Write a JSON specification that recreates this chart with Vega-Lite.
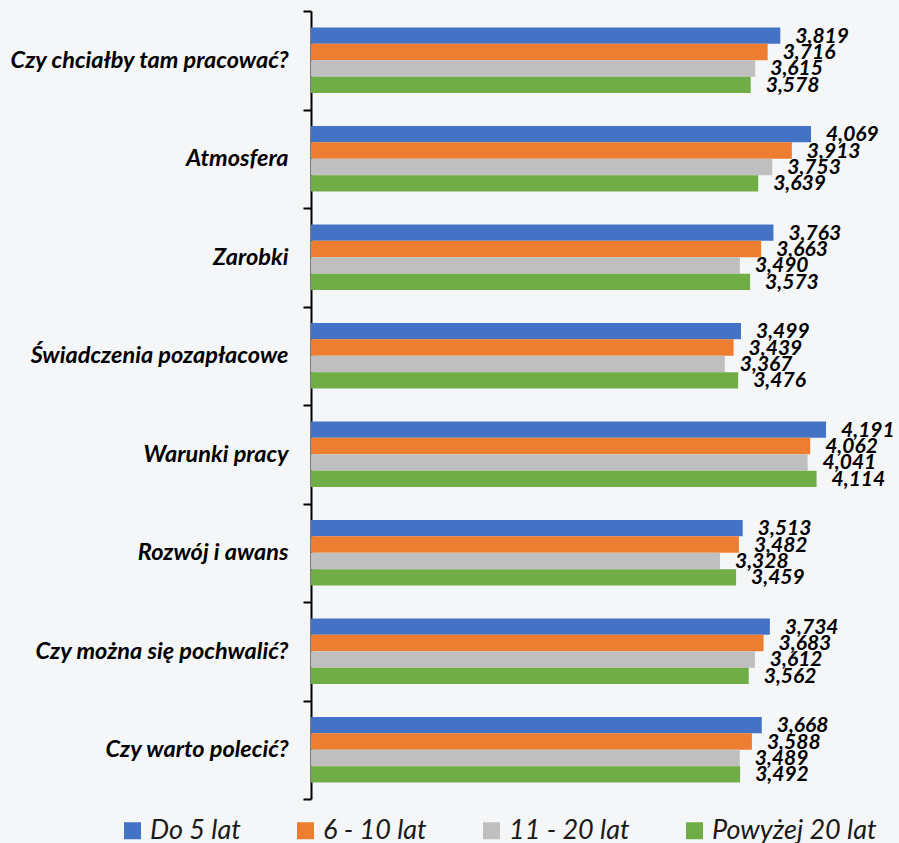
{
  "$schema": "https://vega.github.io/schema/vega-lite/v6.json",
  "background": "#f5f6f8",
  "autosize": {"type": "none"},
  "padding": {"left": 311, "top": 11, "right": 35, "bottom": 44},
  "width": 553,
  "height": 788,
  "config": {
    "locale": {"number": {"decimal": ",", "thousands": " ", "grouping": [3], "currency": ["", " zł"]}},
    "view": {"stroke": null},
    "font": "Lato"
  },
  "data": {
    "values": [
      {"kategoria": "Czy chciałby tam pracować?", "grupa": "Do 5 lat", "ocena": 3.819},
      {"kategoria": "Czy chciałby tam pracować?", "grupa": "6 - 10 lat", "ocena": 3.716},
      {"kategoria": "Czy chciałby tam pracować?", "grupa": "11 - 20 lat", "ocena": 3.615},
      {"kategoria": "Czy chciałby tam pracować?", "grupa": "Powyżej 20 lat", "ocena": 3.578},
      {"kategoria": "Atmosfera", "grupa": "Do 5 lat", "ocena": 4.069},
      {"kategoria": "Atmosfera", "grupa": "6 - 10 lat", "ocena": 3.913},
      {"kategoria": "Atmosfera", "grupa": "11 - 20 lat", "ocena": 3.753},
      {"kategoria": "Atmosfera", "grupa": "Powyżej 20 lat", "ocena": 3.639},
      {"kategoria": "Zarobki", "grupa": "Do 5 lat", "ocena": 3.763},
      {"kategoria": "Zarobki", "grupa": "6 - 10 lat", "ocena": 3.663},
      {"kategoria": "Zarobki", "grupa": "11 - 20 lat", "ocena": 3.490},
      {"kategoria": "Zarobki", "grupa": "Powyżej 20 lat", "ocena": 3.573},
      {"kategoria": "Świadczenia pozapłacowe", "grupa": "Do 5 lat", "ocena": 3.499},
      {"kategoria": "Świadczenia pozapłacowe", "grupa": "6 - 10 lat", "ocena": 3.439},
      {"kategoria": "Świadczenia pozapłacowe", "grupa": "11 - 20 lat", "ocena": 3.367},
      {"kategoria": "Świadczenia pozapłacowe", "grupa": "Powyżej 20 lat", "ocena": 3.476},
      {"kategoria": "Warunki pracy", "grupa": "Do 5 lat", "ocena": 4.191},
      {"kategoria": "Warunki pracy", "grupa": "6 - 10 lat", "ocena": 4.062},
      {"kategoria": "Warunki pracy", "grupa": "11 - 20 lat", "ocena": 4.041},
      {"kategoria": "Warunki pracy", "grupa": "Powyżej 20 lat", "ocena": 4.114},
      {"kategoria": "Rozwój i awans", "grupa": "Do 5 lat", "ocena": 3.513},
      {"kategoria": "Rozwój i awans", "grupa": "6 - 10 lat", "ocena": 3.482},
      {"kategoria": "Rozwój i awans", "grupa": "11 - 20 lat", "ocena": 3.328},
      {"kategoria": "Rozwój i awans", "grupa": "Powyżej 20 lat", "ocena": 3.459},
      {"kategoria": "Czy można się pochwalić?", "grupa": "Do 5 lat", "ocena": 3.734},
      {"kategoria": "Czy można się pochwalić?", "grupa": "6 - 10 lat", "ocena": 3.683},
      {"kategoria": "Czy można się pochwalić?", "grupa": "11 - 20 lat", "ocena": 3.612},
      {"kategoria": "Czy można się pochwalić?", "grupa": "Powyżej 20 lat", "ocena": 3.562},
      {"kategoria": "Czy warto polecić?", "grupa": "Do 5 lat", "ocena": 3.668},
      {"kategoria": "Czy warto polecić?", "grupa": "6 - 10 lat", "ocena": 3.588},
      {"kategoria": "Czy warto polecić?", "grupa": "11 - 20 lat", "ocena": 3.489},
      {"kategoria": "Czy warto polecić?", "grupa": "Powyżej 20 lat", "ocena": 3.492}
    ]
  },
  "encoding": {
    "y": {
      "field": "kategoria",
      "type": "nominal",
      "sort": null,
      "scale": {"paddingInner": 0, "paddingOuter": 0},
      "axis": {
        "title": null,
        "domainColor": "#000000",
        "domainWidth": 2,
        "tickColor": "#000000",
        "tickWidth": 2,
        "tickSize": 8,
        "tickBand": "extent",
        "labelPadding": 15,
        "labelFont": "Lato",
        "labelFontSize": 23.5,
        "labelFontWeight": "bold",
        "labelFontStyle": "italic",
        "labelColor": "#000000",
        "labelLimit": 320
      }
    },
    "yOffset": {
      "field": "grupa",
      "type": "nominal",
      "sort": ["Do 5 lat", "6 - 10 lat", "11 - 20 lat", "Powyżej 20 lat"],
      "scale": {"paddingInner": 0, "paddingOuter": 1.24}
    },
    "x": {
      "field": "ocena",
      "type": "quantitative",
      "scale": {"domain": [0, 4.5]},
      "axis": null
    }
  },
  "layer": [
    {
      "mark": {"type": "bar"},
      "encoding": {
        "color": {
          "field": "grupa",
          "type": "nominal",
          "sort": ["Do 5 lat", "6 - 10 lat", "11 - 20 lat", "Powyżej 20 lat"],
          "scale": {
            "domain": ["Do 5 lat", "6 - 10 lat", "11 - 20 lat", "Powyżej 20 lat"],
            "range": ["#4472c4", "#ed7d31", "#bfbfbf", "#70ad47"]
          },
          "legend": {
            "title": null,
            "orient": "none",
            "direction": "horizontal",
            "legendX": -192,
            "legendY": 806,
            "padding": 0,
            "symbolType": "square",
            "symbolSize": 289,
            "symbolStrokeWidth": 0,
            "symbolOpacity": 1,
            "labelFont": "Lato",
            "labelFontSize": 27,
            "labelFontStyle": "italic",
            "labelColor": "#1a1a1a",
            "labelOffset": 4,
            "columnPadding": 51,
            "labelLimit": 300
          }
        }
      }
    },
    {
      "mark": {
        "type": "text",
        "align": "left",
        "baseline": "middle",
        "dx": 15,
        "dy": 1,
        "font": "Lato",
        "fontSize": 21,
        "fontWeight": "bold",
        "fontStyle": "italic",
        "color": "#000000"
      },
      "encoding": {
        "text": {"field": "ocena", "type": "quantitative", "format": ".3f"}
      }
    }
  ]
}
